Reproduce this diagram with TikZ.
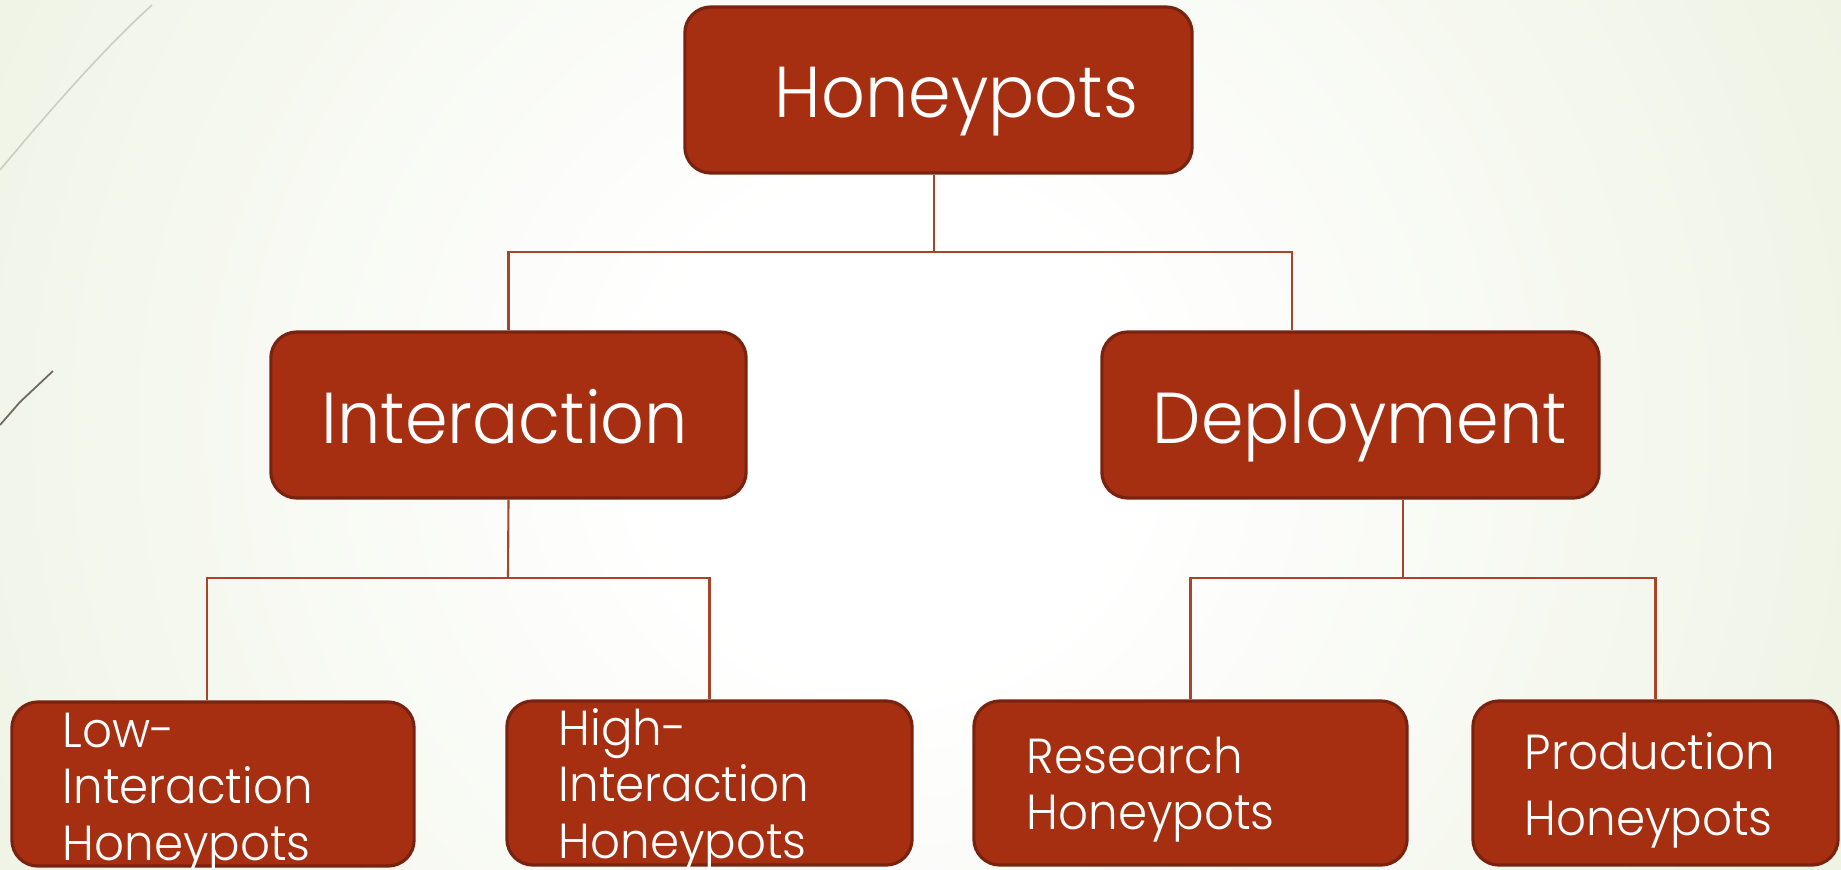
\documentclass[tikz,border=0pt]{standalone}
\usepackage{fontspec}
\setmainfont{Poppins}[UprightFont=* Light, FakeStretch=0.95]
\usetikzlibrary{calc}

\definecolor{boxfill}{HTML}{A52F10}
\definecolor{boxedge}{HTML}{7A2210}
\definecolor{wire}{HTML}{A6452A}
\definecolor{bgedge}{HTML}{DFE8CB}
\definecolor{decolight}{HTML}{C9CFBC}
\definecolor{decodark}{HTML}{6F6A5A}

% soft white-to-green slide background
\pgfdeclareradialshading{slidebg}{\pgfpoint{0bp}{0bp}}{%
  color(0bp)=(white); color(5.6bp)=(white);
  color(20.4bp)=(bgedge!42!white); color(35.2bp)=(bgedge!85!white);
  color(46.4bp)=(bgedge); color(50bp)=(bgedge)}

\tikzset{
  tbox/.style={draw=boxedge, line width=0.9pt, fill=boxfill,
    rounded corners=0.26cm, inner sep=0pt},
  wire/.style={draw=wire, line width=0.6pt},
  lbl/.style={text=white, inner sep=0pt, anchor=base west},
  bigtxt/.style={lbl, font=\fontsize{20.5}{24}\selectfont},
  smalltxt/.style={lbl, font=\fontsize{14}{16.2}\selectfont},
}

\begin{document}
\begin{tikzpicture}[x=0.01cm, y=-0.01cm]
  \useasboundingbox (0,0) rectangle (1841,869);
  \clip (0,0) rectangle (1841,869);
  \fill[bgedge] (0,0) rectangle (1841,869);
  \shade[shading=slidebg] (890,430) circle[radius=1100];

  % theme strokes on the left edge
  \draw[decolight, line width=0.45pt] (0,170) .. controls (40,122) and (100,52) .. (152,5);
  \draw[decodark, line width=0.5pt] (0,425) -- (20,402) -- (53,371);

  % boxes
  \node[tbox, minimum width=5.07cm, minimum height=1.66cm] (hp)   at (938.5,90)  {};
  \node[tbox, minimum width=4.75cm, minimum height=1.66cm] (int)  at (508.5,415) {};
  \node[tbox, minimum width=4.97cm, minimum height=1.66cm] (dep)  at (1350.5,415) {};
  \node[tbox, minimum width=4.02cm, minimum height=1.64cm] (low)  at (213,784)   {};
  \node[tbox, minimum width=4.05cm, minimum height=1.64cm] (high) at (709.5,783) {};
  \node[tbox, minimum width=4.33cm, minimum height=1.64cm] (res)  at (1190.5,783) {};
  \node[tbox, minimum width=3.65cm, minimum height=1.64cm] (prod) at (1655.5,783) {};

  % branching points
  \coordinate (j0) at (934,252);
  \coordinate (j1) at (508,578);
  \coordinate (j2) at (1403,578);

  % connectors
  \draw[wire] (hp.south -| j0) -- (j0);
  \draw[wire] (int.north) |- (j0);
  \draw[wire] (j0) -| ($(dep.north west)+(192,0)$);
  \draw[wire] (int.south) -- (j1);
  \draw[wire] ($(low.north)+(-6,0)$) |- (j1);
  \draw[wire] (j1) -| (high.north);
  \draw[wire] ($(dep.south)+(52.5,0)$) -- (j2);
  \draw[wire] (res.north) |- (j2);
  \draw[wire] (j2) -| (prod.north);

  % labels
  \node[bigtxt] (thp)  at (774,117)  {Honeypots};
  \node[bigtxt] (tint) at (321,443)  {Interaction};
  \node[bigtxt] (tdep) at (1152,443) {Deployment};
  \node[smalltxt] (tlow) at (62,747)
    {\begin{tabular}[t]{@{}l@{}}Low-\\Interaction\\Honeypots\end{tabular}};
  \node[smalltxt] (thigh) at (558,745)
    {\begin{tabular}[t]{@{}l@{}}High-\\Interaction\\Honeypots\end{tabular}};
  \node[smalltxt] (tres) at (1026,773)
    {\begin{tabular}[t]{@{}l@{}}Research\\Honeypots\end{tabular}};
  \node[smalltxt, font=\fontsize{14}{18.8}\selectfont] (tprod) at (1524,769)
    {\begin{tabular}[t]{@{}l@{}}Production\\Honeypots\end{tabular}};
\end{tikzpicture}
\end{document}
